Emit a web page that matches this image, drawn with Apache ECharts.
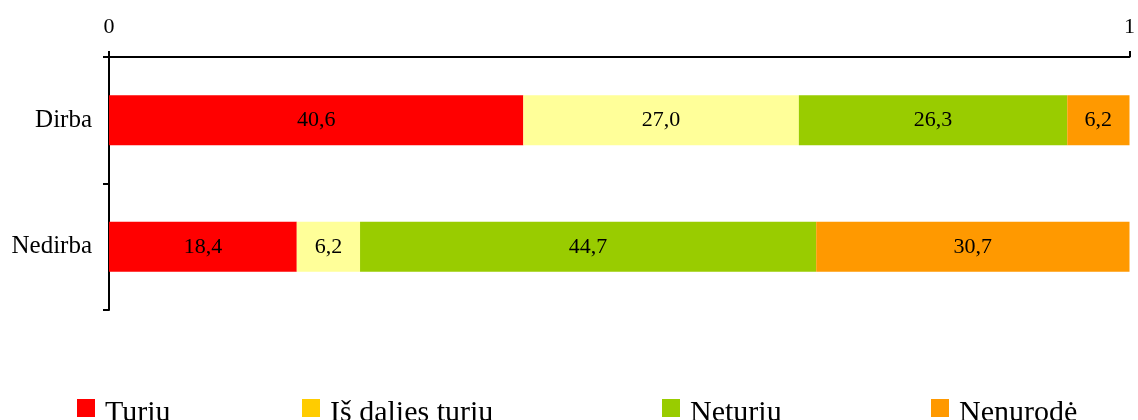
<!DOCTYPE html>
<html>
<head>
<meta charset="utf-8">
<script src="https://cdn.jsdelivr.net/npm/echarts@6/dist/echarts.min.js"></script>
<style>
  html, body { margin: 0; padding: 0; background: #fff; }
  #chart { width: 1138px; height: 420px; }
</style>
</head>
<body>
<div id="chart"></div>
<script>
  const categories = ['Dirba', 'Nedirba']
  const turiu = [40.6, 18.4]
  const isDalies = [27.0, 6.2]
  const neturiu = [26.3, 44.7]
  const nenurode = [6.2, 30.7]
  const axisTicks = [0, 100]

  const serif = '"Liberation Serif", "DejaVu Serif", serif'
  const names = ['Turiu', 'Iš dalies turiu', 'Neturiu', 'Nenurodė']
  const barColors = ['#ff0000', '#ffff99', '#99cc00', '#ff9900']
  // legend squares use a darker yellow than the bar
  const legendColors = ['#ff0000', '#ffcc00', '#99cc00', '#ff9900']
  const legendLeft = [77, 302, 662, 931]

  const chart = echarts.init(document.getElementById('chart'))

  const makeSeries = (name, data, color) => ({
    name: name,
    type: 'bar',
    stack: 'total',
    data: data,
    barWidth: 50,
    itemStyle: { color: color },
    label: {
      show: true,
      position: 'inside',
      color: '#000',
      fontFamily: serif,
      fontSize: 22,
      formatter: p => p.value.toFixed(1).replace('.', ',')
    }
  })

  const option = {
    animation: false,
    grid: { left: 109, right: 4, top: 57, bottom: 110 },
    legend: names.map((n, i) => ({
      left: legendLeft[i],
      top: 398,
      padding: 0,
      itemWidth: 18,
      itemHeight: 18,
      icon: 'rect',
      selectedMode: false,
      formatter: '{t|{name}}',
      textStyle: {
        rich: {
          t: { fontFamily: serif, fontSize: 30, color: '#000', padding: [10, 0, 0, 5] }
        }
      },
      data: [{ name: n, itemStyle: { color: legendColors[i] } }]
    })),
    xAxis: {
      type: 'value',
      position: 'top',
      min: axisTicks[0],
      max: axisTicks[1],
      interval: 100,
      splitLine: { show: false },
      axisLine: { show: true, lineStyle: { color: '#000', width: 2 } },
      axisTick: { show: true, length: 6, lineStyle: { color: '#000', width: 2 } },
      axisLabel: {
        color: '#000',
        fontFamily: serif,
        fontSize: 22,
        margin: 19,
        formatter: v => String(v / 100)
      }
    },
    yAxis: {
      type: 'category',
      inverse: true,
      data: categories,
      axisLine: { show: true, lineStyle: { color: '#000', width: 2 } },
      axisTick: { show: true, length: 6, lineStyle: { color: '#000', width: 2 } },
      axisLabel: { color: '#000', fontFamily: serif, fontSize: 25, margin: 17 }
    },
    series: [
      makeSeries(names[0], turiu, barColors[0]),
      makeSeries(names[1], isDalies, barColors[1]),
      makeSeries(names[2], neturiu, barColors[2]),
      makeSeries(names[3], nenurode, barColors[3])
    ]
  }

  chart.setOption(option)
</script>
</body>
</html>
